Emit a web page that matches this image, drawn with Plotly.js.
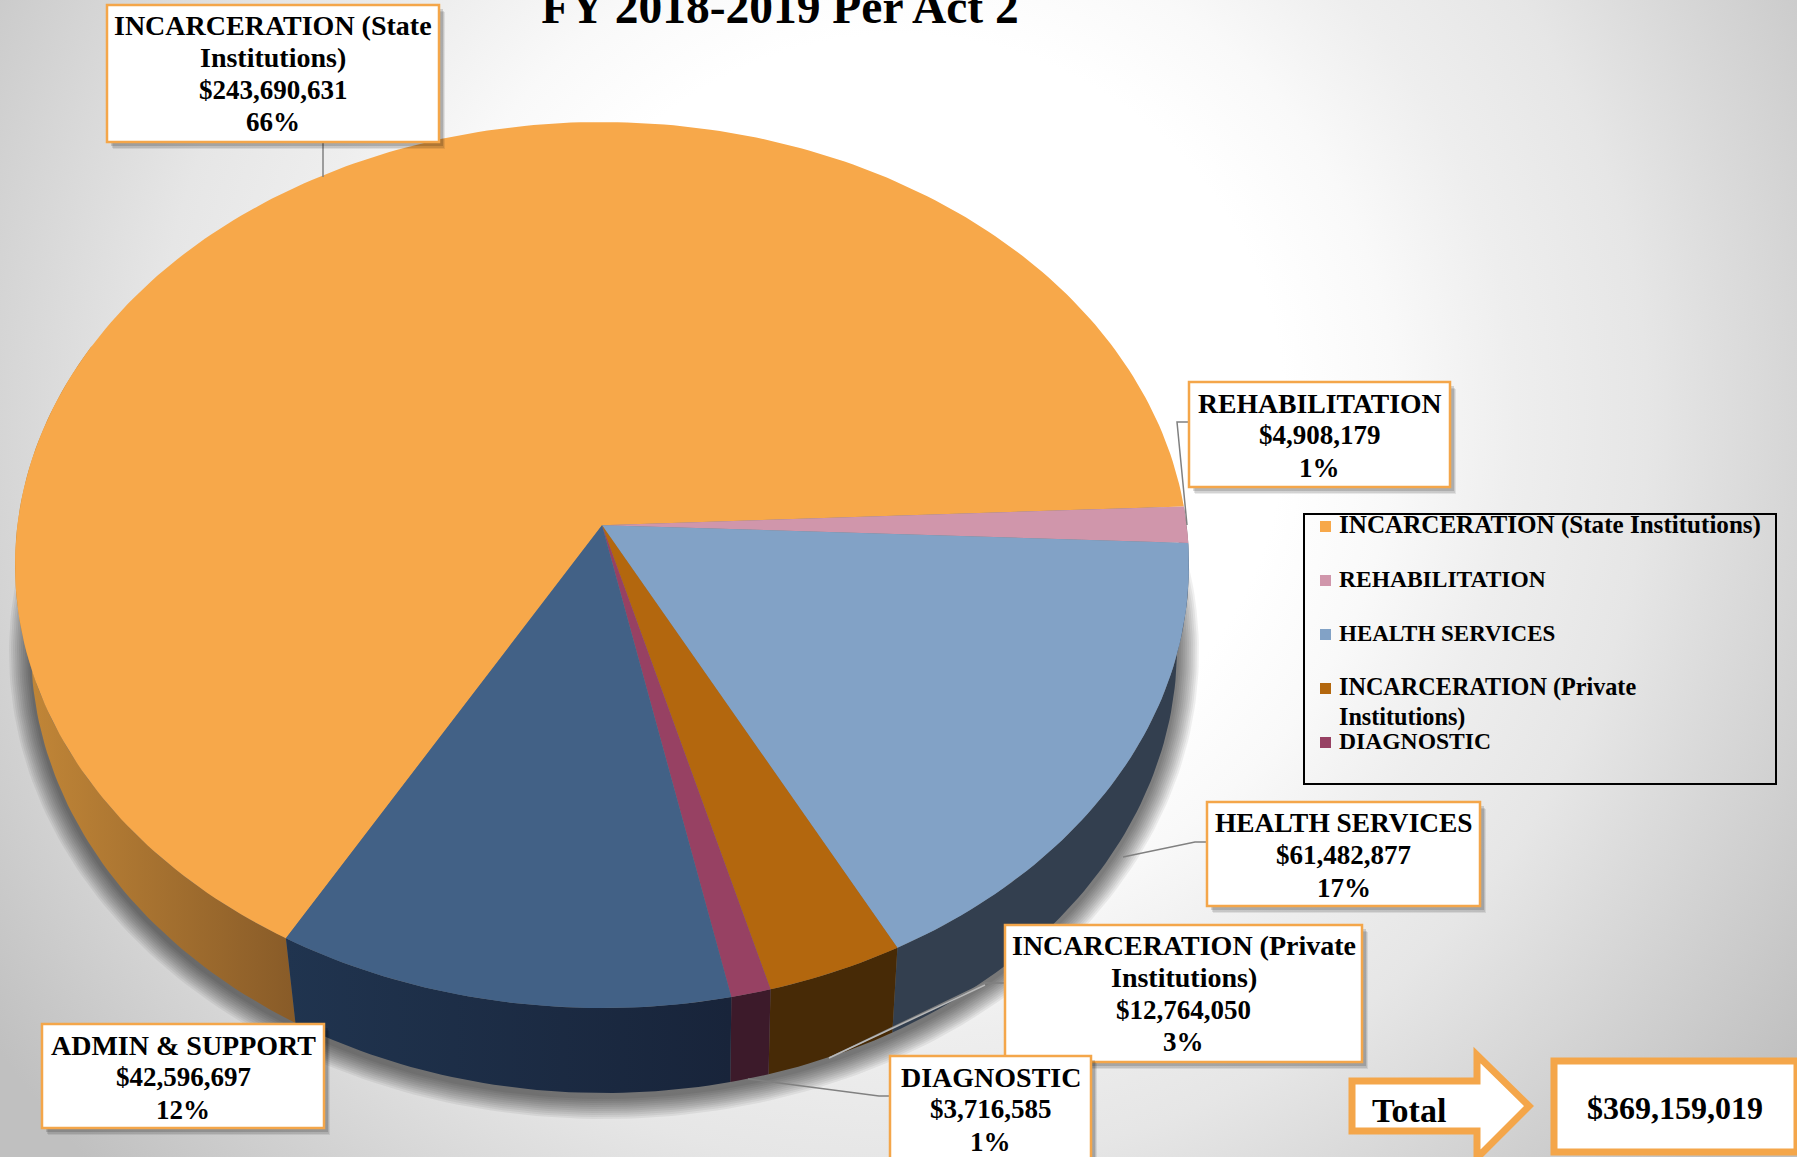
<!DOCTYPE html>
<html>
<head>
<meta charset="utf-8">
<script src="https://cdn.plot.ly/plotly-3.0.1.min.js"></script>
<style>
html,body{margin:0;padding:0;width:1797px;height:1157px;overflow:hidden;
background:radial-gradient(circle 1100px at 900px 420px,#ffffff 0%,#ffffff 35%,#f9f9f9 45%,#eeeeee 56%,#e6e6e6 68%,#dadada 78%,#cdcdcd 89%,#c0c0c0 100%);}
</style>
</head>
<body>
<div id="chart" style="width:1797px;height:1157px"></div>
<script>
// ---- data ----
const categories = ["INCARCERATION (State Institutions)","REHABILITATION","HEALTH SERVICES","INCARCERATION (Private Institutions)","DIAGNOSTIC","ADMIN & SUPPORT"];
const amounts = [243690631,4908179,61482877,12764050,3716585,42596697];
const percentLabels = ["66%","1%","17%","3%","1%","12%"];
const amountLabels = ["$243,690,631","$4,908,179","$61,482,877","$12,764,050","$3,716,585","$42,596,697"];
const topColors = ["#f7a84a","#d096ab","#82a2c6","#b3670e","#974163","#426186"];
const wallLeft  = ["#c48838","#8f6a78","#333f4f","#472a06","#3c1a2a","#20344f"];
const wallRight = ["#885b28","#8f6a78","#333f4f","#472a06","#3c1a2a","#18243a"];
const legendCategories = categories.slice(0,5);
const totalLabel = "$369,159,019";
const titleText = "FY 2018-2019 Per Act 2";

// ---- pie geometry (tilted disc, perspective) ----
const topDisc = {cx:602, cy:565, rx:587, ry:443};
const baseDisc = {cx:604, cy:648, rx:573, ry:445};
const perspective = -0.09;
const startDeg = 119.9;
const rad = Math.PI/180;
function rim(d, deg){
  const s = Math.sin(deg*rad), c = Math.cos(deg*rad), k = perspective;
  const den = 1 + k*s;
  return [d.cx + d.rx*c*Math.sqrt(1-k*k)/den, d.cy + d.ry*(s+k)/den];
}
function steps(a,b){ const o=[]; const n=Math.max(2,Math.ceil(Math.abs(b-a))); for(let i=0;i<=n;i++) o.push(a+(b-a)*i/n); return o; }
const total = amounts.reduce((p,v)=>p+v,0);
const sweeps = []; { let a = startDeg; amounts.forEach(v=>{ const b=a+v/total*360; sweeps.push([a,b]); a=b; }); }

const traces = [];
// soft drop shadow
for(let g=22; g>=2; g-=2){
  const d = {cx:baseDisc.cx, cy:baseDisc.cy+4, rx:baseDisc.rx+g, ry:baseDisc.ry+g};
  const pts = steps(0,360).map(t=>rim(d,t));
  traces.push({type:'scatter',mode:'lines',x:pts.map(p=>p[0]),y:pts.map(p=>p[1]),fill:'toself',
    fillcolor:'rgba(0,0,0,0.06)',line:{width:0},hoverinfo:'skip',showlegend:false});
}
// side walls
sweeps.forEach((sw,i)=>{
  let a = sw[0], b = sw[1];
  if(i===0){ b = 205; }
  const top = steps(a,b).map(t=>rim(topDisc,t));
  const bot = steps(b,a).map(t=>rim(baseDisc,t));
  const pts = top.concat(bot);
  traces.push({type:'scatter',mode:'lines',x:pts.map(p=>p[0]),y:pts.map(p=>p[1]),fill:'toself',
    line:{width:0},hoverinfo:'skip',showlegend:false,
    fillgradient:{type:'horizontal',colorscale:[[0,wallLeft[i]],[1,wallRight[i]]]}});
});
// top face slices
const apex = [topDisc.cx, topDisc.cy + topDisc.ry*perspective];
sweeps.forEach((sw,i)=>{
  const pts = [apex].concat(steps(sw[0],sw[1]).map(t=>rim(topDisc,t))).concat([apex]);
  traces.push({type:'scatter',mode:'lines',name:categories[i],x:pts.map(p=>p[0]),y:pts.map(p=>p[1]),fill:'toself',
    fillcolor:topColors[i],line:{width:0},showlegend:false,
    text:categories[i]+' '+amountLabels[i]+' '+percentLabels[i],hoverinfo:'text'});
});

// ---- callouts ----
const calloutBoxes = [[107,5,439,142],[1189,382,1450,487],[1207,802,1480,906],[1005,925,1362,1062],[890,1056,1091,1175],[42,1024,324,1128]];
const calloutLines = [
  ["INCARCERATION (State","Institutions)"],["REHABILITATION"],["HEALTH SERVICES"],
  ["INCARCERATION (Private","Institutions)"],["DIAGNOSTIC"],["ADMIN & SUPPORT"]];
const calloutNameSizes = [28,27.7,27.4,28,28,28];
const calloutFirstLineY = [25,403,823,945,1077,1045];
const leaders = [
  [[323,142],[323,177]],
  [[1189,422],[1177,422],[1187,525]],
  [[1207,842],[1195,842],[1123,857]],
  [[1005,983],[985,983],[829,1058]],
  [[890,1096],[879,1096],[748,1079]]];
const orange = "#f4a64a";
const font = "'Liberation Serif','Times New Roman',serif";
const shapes = [], annotations = [];
function rect(x0,y0,x1,y1,o){ shapes.push(Object.assign({type:'rect',xref:'x',yref:'y',x0,y0,x1,y1,layer:'above',line:{width:0}},o)); }
function txt(x,y,text,size,anchor){ annotations.push({xref:'x',yref:'y',x,y,text,showarrow:false,xanchor:anchor||'center',yanchor:'middle',
  font:{family:font,size,color:'#000',weight:700}}); }
leaders.forEach(l=>shapes.push({type:'path',xref:'x',yref:'y',layer:'above',
  path:'M'+l.map(p=>p.join(' ')).join(' L'),line:{color:'#808080',width:1.5}}));
shapes.push({type:'line',xref:'x',yref:'y',layer:'above',x0:985,y0:985,x1:829,y1:1058,line:{color:'#b9b9b9',width:1.5}});
calloutBoxes.forEach((b,i)=>{
  [[6,7,0.08],[5,6,0.10],[4,4,0.14]].forEach(s=>rect(b[0]+s[0],b[1]+s[1],b[2]+s[0],b[3]+s[1],{fillcolor:'rgba(0,0,0,'+s[2]+')'}));
  rect(b[0],b[1],b[2],b[3],{fillcolor:'#fff',line:{color:orange,width:2.5}});
  const cx=(b[0]+b[2])/2;
  const names=calloutLines[i], n=names.length;
  names.forEach((t,j)=>txt(cx,calloutFirstLineY[i]+j*32.3,t,calloutNameSizes[i]));
  [amountLabels[i],percentLabels[i]].forEach((t,j)=>txt(cx,calloutFirstLineY[i]+(n+j)*32.3,t,27));
});

// ---- legend panel ----
rect(1304,514,1776,784,{fillcolor:'rgba(0,0,0,0)',line:{color:'#000',width:2}});
const legendY = [525,579,633,687,741];
const legendSizes = [25.1,23.5,23,24.2,23.6];
legendCategories.forEach((c,i)=>{
  rect(1320,legendY[i]-4,1331,legendY[i]+7,{fillcolor:topColors[i]});
  if(i===3){ txt(1337,legendY[i],"INCARCERATION (Private",legendSizes[i],'left'); txt(1337,legendY[i]+30,"Institutions)",legendSizes[i],'left'); }
  else txt(1337,legendY[i],c,legendSizes[i],'left');
});

// ---- total arrow and box ----
shapes.push({type:'path',xref:'x',yref:'y',layer:'above',
  path:'M1352 1081 L1477 1081 L1477 1055 L1529 1106 L1477 1158 L1477 1131 L1352 1131 Z',
  fillcolor:'#fff',line:{color:orange,width:7}});
rect(1554,1061,1797,1152,{fillcolor:'#fff',line:{color:orange,width:7}});
txt(1370,1110,"Total",34,'left');
txt(1675,1108,totalLabel,32);

const layout = {
  width:1797,height:1157,margin:{l:0,r:0,t:0,b:0},
  paper_bgcolor:'rgba(0,0,0,0)',plot_bgcolor:'rgba(0,0,0,0)',
  showlegend:false,
  xaxis:{range:[0,1797],visible:false,fixedrange:true},
  yaxis:{range:[1157,0],visible:false,fixedrange:true},
  title:{text:titleText,x:780/1797,xanchor:'center',y:1-6/1157,yanchor:'middle',
    font:{family:font,size:47.5,color:'#000',weight:700}},
  shapes,annotations
};
Plotly.newPlot('chart',traces,layout,{displayModeBar:false,staticPlot:false});
</script>
</body>
</html>
